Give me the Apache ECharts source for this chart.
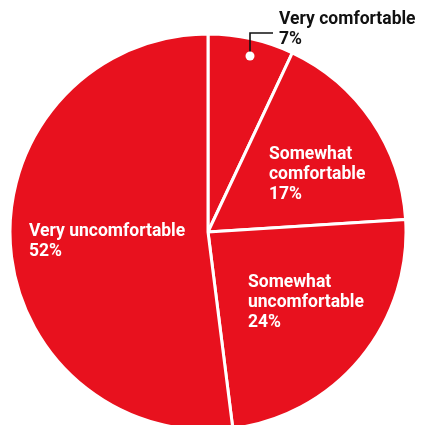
<!DOCTYPE html>
<html><head><meta charset="utf-8">
<script src="https://cdn.jsdelivr.net/npm/echarts@6/dist/echarts.min.js"></script>
<style>html,body{margin:0;padding:0;background:#fff}#c{width:422px;height:425px}</style>
</head><body><div id="c"></div>
<script>
var categories = ['Very comfortable', 'Somewhat\ncomfortable', 'Somewhat\nuncomfortable', 'Very uncomfortable'];
var values = [7, 17, 24, 52];
// label top-left anchors (layout, not data)
var labelPos = [[279, 10], [269, 145], [248, 273], [29, 222]];

var CX = 208, CY = 232, R = 198;
var total = values.reduce(function(a,b){return a+b;}, 0);
function midAngle(i){
  var s = 0; for (var k=0;k<i;k++) s += values[k];
  return (s + values[i]/2) / total * 2 * Math.PI; // clockwise from top
}
var chart = echarts.init(document.getElementById('c'), null, {renderer:'canvas'});
var dotA = midAngle(0), dotR = R*0.91;
var dot = [Math.round(CX + dotR*Math.sin(dotA)+3), Math.round(CY - dotR*Math.cos(dotA))];

chart.setOption({
  animation: false,
  series: [{
    type: 'pie',
    center: [CX, CY],
    radius: [0, R],
    startAngle: 90,
    clockwise: true,
    silent: true,
    itemStyle: {color: '#e8111e', borderColor: '#fff', borderWidth: 3},
    label: {
      show: true, position: 'inside', color: '#fff', overflow: 'none',
      fontFamily: 'Roboto', fontWeight: 'bold', fontSize: 17.5, lineHeight: 20,
      align: 'left',
      formatter: function(p){ return p.name + '\n' + p.value + '%'; }
    },
    labelLine: {show: false},
    labelLayout: function(p){
      var pos = labelPos[p.dataIndex];
      return {x: pos[0], y: pos[1], align: 'left', verticalAlign: 'top'};
    },
    data: values.map(function(v, i){
      var d = {name: categories[i], value: v};
      if (i === 0) {
        d.label = {color: '#111'};
      }
      return d;
    })
  }],
  graphic: [
    {type: 'polyline', shape: {points: [[dot[0], dot[1]], [dot[0], 33], [labelPos[0][0]-6, 33]]},
     style: {stroke: '#111', lineWidth: 1.6, fill: null}, z: 100},
    {type: 'circle', shape: {cx: dot[0], cy: dot[1], r: 4.5}, style: {fill: '#fff'}, z: 101}
  ]
});
</script></body></html>
